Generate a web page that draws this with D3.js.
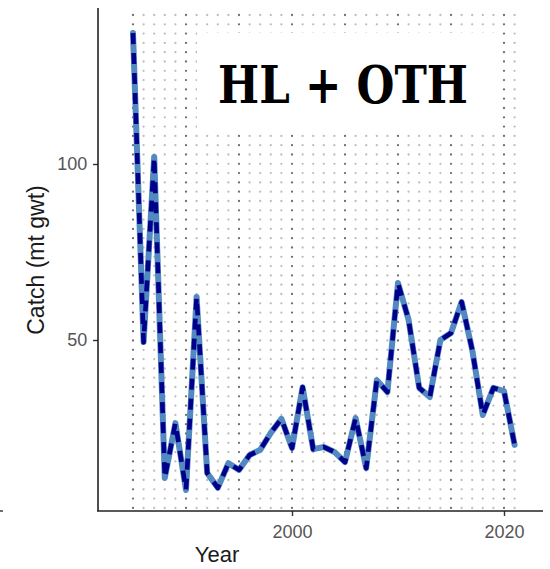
<!DOCTYPE html>
<html>
<head>
<meta charset="utf-8">
<script src="https://cdn.jsdelivr.net/npm/d3@7"></script>
<style>
  body { margin: 0; background: #fff; }
  svg { display: block; }
</style>
</head>
<body>
<div id="chart"></div>
<script>
// catch by year
const years = [1985, 1986, 1987, 1988, 1989, 1990, 1991, 1992, 1993, 1994,
    1995, 1996, 1997, 1998, 1999, 2000, 2001, 2002, 2003, 2004,
    2005, 2006, 2007, 2008, 2009, 2010, 2011, 2012, 2013, 2014,
    2015, 2016, 2017, 2018, 2019, 2020, 2021];
const catchValues = [137.2, 49.4, 102, 10.8, 26.4, 7.4, 62.2, 12.2, 8.0, 15.0,
    13.1, 17.3, 18.8, 23.6, 27.6, 19.3, 36.6, 19.0, 19.6, 18.2,
    15.3, 27.8, 13.6, 38.6, 35.2, 66.2, 55.7, 36.4, 33.8, 50.0,
    52.0, 60.8, 47.2, 28.7, 36.4, 35.5, 20.2];
const xTicks = [2000, 2020];
const yTicks = [50, 100];
const panelTitle = "HL + OTH";

const width = 550, height = 569;
const svg = d3.select("#chart").append("svg")
    .attr("width", width)
    .attr("height", height);

const x = d3.scaleLinear().domain([2000, 2020]).range([292, 504]);
const y = d3.scaleLinear().domain([0, 100]).range([516, 164]);

// dotted vertical grid, darker every 5 years
const grid = svg.append("g");
grid.selectAll("line")
    .data(years)
    .join("line")
    .attr("x1", d => x(d))
    .attr("x2", d => x(d))
    .attr("y1", 15)
    .attr("y2", 510)
    .attr("stroke", d => d % 5 === 0 ? "#6e6e6e" : "#bdbdbd")
    .attr("stroke-width", 2.3)
    .attr("stroke-linecap", "round")
    .attr("stroke-dasharray", "0 9.3");

// white label box over the grid
svg.append("rect")
    .attr("x", 197)
    .attr("y", 33)
    .attr("width", 303)
    .attr("height", 95)
    .attr("fill", "#fff");

svg.append("text")
    .attr("x", 218)
    .attr("y", 103)
    .attr("textLength", 250)
    .attr("lengthAdjust", "spacingAndGlyphs")
    .attr("font-family", "'DejaVu Serif', serif")
    .attr("font-weight", "bold")
    .attr("font-size", 52)
    .attr("fill", "#000")
    .text(panelTitle);

// axes
const xAxis = d3.axisBottom(x).tickValues(xTicks).tickFormat(d3.format("d")).tickSize(5).tickSizeOuter(0);
const yAxis = d3.axisLeft(y).tickValues(yTicks).tickSize(5).tickSizeOuter(0);

const gx = svg.append("g").attr("transform", "translate(0,511)").call(xAxis);
gx.select(".domain").remove();
gx.append("line").attr("x1", 97).attr("x2", 543).attr("stroke", "#222").attr("stroke-width", 1.6);

const gy = svg.append("g").attr("transform", "translate(98,0)").call(yAxis);
gy.select(".domain").remove();
gy.append("line").attr("y1", 8).attr("y2", 511).attr("stroke", "#222").attr("stroke-width", 1.6);

[gx, gy].forEach(g => {
    g.selectAll(".tick line").attr("stroke", "#333").attr("stroke-width", 1.4);
    g.selectAll(".tick text")
        .attr("fill", "#555")
        .attr("font-family", "'Liberation Sans', Arial, sans-serif")
        .attr("font-size", 18);
});
gx.selectAll(".tick text").attr("dy", "1.05em");
gy.selectAll(".tick text").attr("dx", "-0.15em");

svg.append("text")
    .attr("x", 217)
    .attr("y", 562)
    .attr("text-anchor", "middle")
    .attr("font-family", "'Liberation Sans', Arial, sans-serif")
    .attr("font-size", 22)
    .attr("fill", "#1a1a1a")
    .text("Year");

svg.append("text")
    .attr("transform", "translate(44,260) rotate(-90)")
    .attr("text-anchor", "middle")
    .attr("font-family", "'Liberation Sans', Arial, sans-serif")
    .attr("font-size", 23)
    .attr("fill", "#1a1a1a")
    .text("Catch (mt gwt)");

// stray tick mark at left edge of the reference
svg.append("line")
    .attr("x1", 0).attr("x2", 3)
    .attr("y1", 511).attr("y2", 511)
    .attr("stroke", "#333").attr("stroke-width", 1.4);

// the series: light blue solid under navy dashes
const series = years.map((yr, i) => ({ year: yr, value: catchValues[i] }));
const line = d3.line().x(d => x(d.year)).y(d => y(d.value));

svg.append("path")
    .datum(series)
    .attr("d", line)
    .attr("fill", "none")
    .attr("stroke", "#5189c0")
    .attr("stroke-width", 6)
    .attr("stroke-linejoin", "round")
    .attr("stroke-linecap", "round");

svg.append("path")
    .datum(series)
    .attr("d", line)
    .attr("fill", "none")
    .attr("stroke", "#00008b")
    .attr("stroke-width", 4.6)
    .attr("stroke-linejoin", "round")
    .attr("stroke-dasharray", "11 9");
</script>
</body>
</html>
